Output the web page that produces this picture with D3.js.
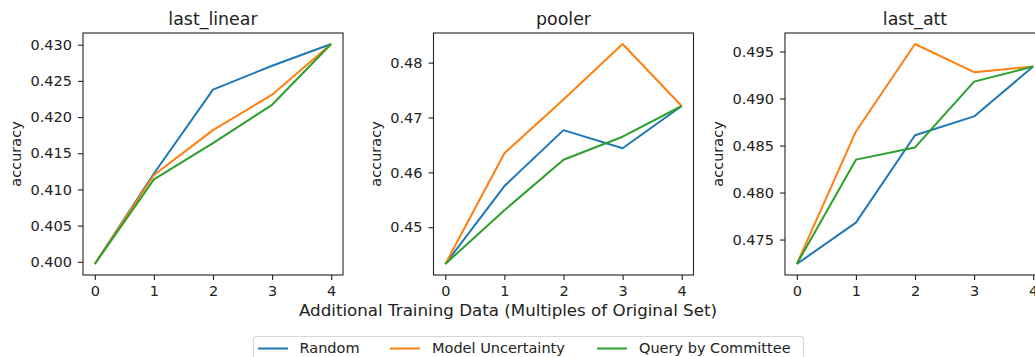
<!DOCTYPE html>
<html lang="en">
<head>
    <meta charset="UTF-8">
    <title>Active learning accuracy</title>
    <script src="https://d3js.org/d3.v7.min.js"></script>
    <style>
        body {
            margin: 0;
            padding: 0;
            background: #fff;
            font-family: 'DejaVu Sans', sans-serif;
        }
        svg text { fill: #222; }
    </style>
</head>
<body>
    <script>
        // Data
        const steps = [0, 1, 2, 3, 4];
        const methods = ["Random", "Model Uncertainty", "Query by Committee"];
        const colors = ["#1f77b4", "#ff7f0e", "#2ca02c"];
        const panelNames = ["last_linear", "pooler", "last_att"];

        const lastLinear = [
            [0.3997, 0.4122, 0.4238, 0.4271, 0.4301],
            [0.3997, 0.4120, 0.4182, 0.4231, 0.4301],
            [0.3997, 0.4114, 0.4164, 0.4217, 0.4301]
        ];
        const pooler = [
            [0.4433, 0.4575, 0.4677, 0.4644, 0.4721],
            [0.4433, 0.4635, 0.4733, 0.4834, 0.4721],
            [0.4433, 0.4531, 0.4623, 0.4665, 0.4721]
        ];
        const lastAtt = [
            [0.4724, 0.4768, 0.4861, 0.4881, 0.4934],
            [0.4724, 0.4865, 0.4958, 0.4928, 0.4934],
            [0.4724, 0.4835, 0.4848, 0.4918, 0.4934]
        ];
        const yTicks = [
            [0.400, 0.405, 0.410, 0.415, 0.420, 0.425, 0.430],
            [0.45, 0.46, 0.47, 0.48],
            [0.475, 0.480, 0.485, 0.490, 0.495]
        ];
        const yFormats = [".3f", ".2f", ".3f"];
        const panelData = [lastLinear, pooler, lastAtt];

        const width = 1035, height = 357;
        const svg = d3.select("body").append("svg")
            .attr("width", width)
            .attr("height", height);

        const panelLeft = [83, 433.5, 785];
        const panelW = 260, plotTop = 33, plotBottom = 275;
        const tickFont = 14.5, titleFont = 17.4;

        panelData.forEach((series, p) => {
            const x = d3.scaleLinear().domain([-0.2, 4.2])
                .range([panelLeft[p], panelLeft[p] + panelW]);
            const all = series.flat();
            const lo = d3.min(all), hi = d3.max(all), pad = (hi - lo) * 0.05;
            const y = d3.scaleLinear().domain([lo - pad, hi + pad]).range([plotBottom, plotTop]);

            const g = svg.append("g");

            // lines
            const line = d3.line().x((d, i) => x(steps[i])).y(d => y(d));
            series.forEach((s, k) => {
                g.append("path")
                    .datum(s)
                    .attr("d", line)
                    .attr("fill", "none")
                    .attr("stroke", colors[k])
                    .attr("stroke-width", 2)
                    .attr("stroke-linejoin", "round");
            });

            // axes
            const xAxis = d3.axisBottom(x).tickValues(steps).tickFormat(d3.format("d"))
                .tickSize(5).tickPadding(6);
            const yAxis = d3.axisLeft(y).tickValues(yTicks[p]).tickFormat(d3.format(yFormats[p]))
                .tickSize(5).tickPadding(6);

            const gx = g.append("g").attr("transform", `translate(0,${plotBottom})`).call(xAxis);
            const gy = g.append("g").attr("transform", `translate(${panelLeft[p]},0)`).call(yAxis);
            [gx, gy].forEach(a => {
                a.select(".domain").remove();
                a.selectAll("line").attr("stroke", "#222").attr("stroke-width", 1.1);
                a.selectAll("text").attr("font-size", tickFont).attr("font-family", "DejaVu Sans")
                    .attr("fill", "#222");
            });

            // frame
            g.append("rect")
                .attr("x", panelLeft[p]).attr("y", plotTop)
                .attr("width", panelW).attr("height", plotBottom - plotTop)
                .attr("fill", "none").attr("stroke", "#222").attr("stroke-width", 1.1);

            // title
            g.append("text")
                .attr("x", panelLeft[p] + panelW / 2).attr("y", 25)
                .attr("text-anchor", "middle").attr("font-size", titleFont)
                .text(panelNames[p]);

            // y label, placed next to the widest tick label
            const tb = gy.node().getBBox();
            const ylx = panelLeft[p] + tb.x - 9;
            g.append("text")
                .attr("transform", `translate(${ylx},${(plotTop + plotBottom) / 2}) rotate(-90)`)
                .attr("text-anchor", "middle").attr("font-size", tickFont)
                .text("accuracy");
        });

        // shared x label
        svg.append("text")
            .attr("x", 508).attr("y", 316)
            .attr("text-anchor", "middle").attr("font-size", 16.7)
            .text("Additional Training Data (Multiples of Original Set)");

        // legend
        const legend = svg.append("g");
        legend.append("rect")
            .attr("x", 253.5).attr("y", 336.5).attr("width", 550).attr("height", 30)
            .attr("rx", 3).attr("fill", "#fff").attr("stroke", "#d6d6d6").attr("stroke-width", 1.1);
        const legendLine = [258, 390, 597];
        const legendText = [299.5, 432, 639];
        methods.forEach((m, k) => {
            legend.append("line")
                .attr("x1", legendLine[k]).attr("x2", legendLine[k] + 30)
                .attr("y1", 348.5).attr("y2", 348.5)
                .attr("stroke", colors[k]).attr("stroke-width", 2);
            legend.append("text")
                .attr("x", legendText[k]).attr("y", 353)
                .attr("font-size", tickFont)
                .text(m);
        });
    </script>
</body>
</html>
